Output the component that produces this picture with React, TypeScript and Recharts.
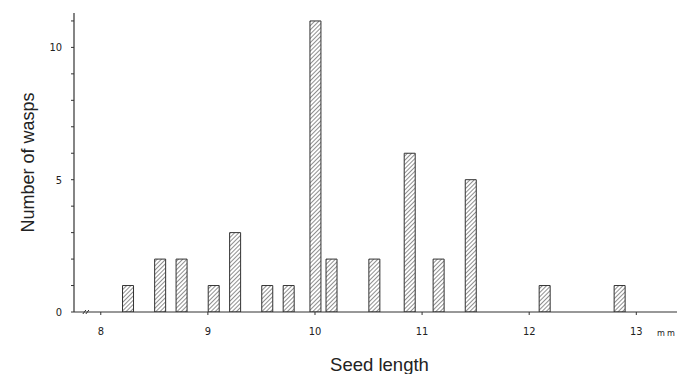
import React from 'react'
import { BarChart, Bar, XAxis, YAxis, ReferenceDot } from 'recharts'

// seed length (mm) of each class and number of wasps
const seedLength = [8.25, 8.55, 8.75, 9.05, 9.25, 9.55, 9.75, 10.0, 10.15, 10.55, 10.88, 11.15, 11.45, 12.14, 12.84]
const wasps = [1, 2, 2, 1, 3, 1, 1, 11, 2, 2, 6, 2, 5, 1, 1]
const xTicks = [8, 9, 10, 11, 12, 13]
const yTicks = [0, 1, 2, 3, 4, 5, 6, 7, 8, 9, 10, 11]
const yLabelled = [0, 5, 10]

const data = seedLength.map((s, i) => ({ seed: s, wasps: wasps[i] }))

const tickFont = {
  fill: '#222',
  fontSize: 11,
  fontFamily: '"DejaVu Sans Condensed", "DejaVu Sans", sans-serif',
}

// the little "//" break on the x axis
const AxisBreak = (props: any) => {
  const { cx, cy } = props
  return (
    <g stroke="#333" strokeWidth={1}>
      <line x1={cx - 4} y1={cy + 2} x2={cx - 1} y2={cy - 2} />
      <line x1={cx - 1} y1={cy + 2} x2={cx + 2} y2={cy - 2} />
    </g>
  )
}

const XLabel = (props: any) => {
  const { viewBox } = props
  const { x, y, width } = viewBox
  return (
    <g>
      <text
        x={x + width - 10}
        y={y + 21}
        textAnchor="middle"
        dominantBaseline="middle"
        style={{ ...tickFont, fontSize: 9, letterSpacing: 2 }}
        fill="#222"
      >
        mm
      </text>
      <text
        x={x + width / 2 + 4}
        y={y + 54}
        textAnchor="middle"
        dominantBaseline="middle"
        fill="#222"
        style={{ fontSize: 18.5, fontFamily: '"Liberation Sans", Arial, sans-serif' }}
      >
        Seed length
      </text>
    </g>
  )
}

export default function App() {
  return (
    <div style={{ position: 'absolute', left: 0, top: 0, background: '#fff' }}>
      <BarChart
        width={679}
        height={374}
        data={data}
        margin={{ top: 13, right: 2, left: 0, bottom: 0 }}
      >
        <defs>
          <pattern
            id="hatch"
            patternUnits="userSpaceOnUse"
            width={3}
            height={3}
            patternTransform="rotate(45)"
          >
            <rect width={3} height={3} fill="#fff" />
            <line x1={0} y1={0} x2={0} y2={3} stroke="#444" strokeWidth={1.2} />
          </pattern>
        </defs>
        <XAxis
          dataKey="seed"
          type="number"
          domain={[7.75, 13.38]}
          ticks={xTicks}
          allowDataOverflow
          height={62}
          tick={tickFont}
          tickSize={3}
          tickMargin={12}
          axisLine={{ stroke: '#333', strokeWidth: 1.2 }}
          tickLine={{ stroke: '#333' }}
          label={<XLabel />}
        />
        <YAxis
          type="number"
          domain={[0, 11.3]}
          ticks={yTicks}
          allowDataOverflow
          width={74}
          tick={tickFont}
          tickSize={3}
          tickMargin={9}
          tickFormatter={(v: number) => (yLabelled.includes(v) ? String(v) : '')}
          axisLine={{ stroke: '#333', strokeWidth: 1.2 }}
          tickLine={{ stroke: '#333' }}
          label={{
            value: 'Number of wasps',
            angle: -90,
            position: 'insideLeft',
            offset: 28,
            style: {
              textAnchor: 'middle',
              fontSize: 18,
              fill: '#222',
              fontFamily: '"Liberation Sans", Arial, sans-serif',
            },
          }}
        />
        <Bar
          dataKey="wasps"
          barSize={11}
          fill="url(#hatch)"
          stroke="#333"
          strokeWidth={1}
          isAnimationActive={false}
        />
        <ReferenceDot x={7.87} y={0} r={0} shape={<AxisBreak />} ifOverflow="visible" />
      </BarChart>
    </div>
  )
}
